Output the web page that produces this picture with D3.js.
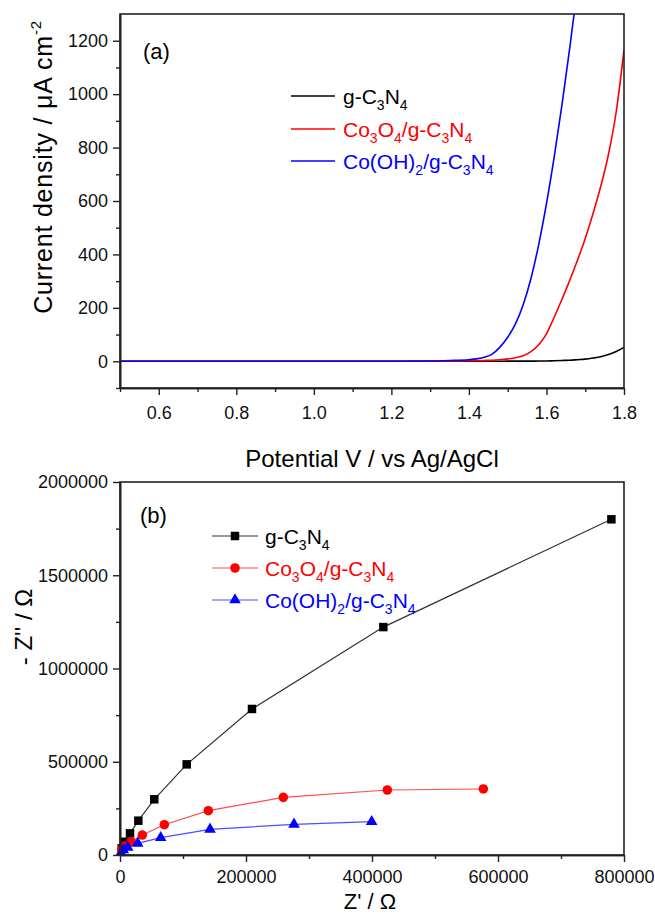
<!DOCTYPE html>
<html><head><meta charset="utf-8">
<script src="https://cdn.jsdelivr.net/npm/d3@7"></script>
<style>
body{margin:0;background:#fff;}
text{font-family:"Liberation Sans",Arial,Helvetica,sans-serif;}
</style></head><body>
<script>
// ---------- Panel (a): LSV curves ----------
const potential = [0.5,0.6,0.7,0.8,0.9,1.0,1.1,1.2,1.3,1.35,1.4,1.42,1.44,1.46,1.48,1.5,1.52,1.54,1.56,1.58,1.6,1.62,1.64,1.66,1.68,1.7,1.72,1.74,1.76,1.78,1.8];
const currentGC3N4 = [0,0,0,0,0,0,0,0,0,0,0,0,0,0,0,0.5,0.5,0.5,0.5,1,1,2,3,4,6,8,12,17,25,37,52];
const currentCo3O4 = [0,0,0,0,0,0,0,0,0,1,2,2,3,4,6,9,13,21,36,62,103,165,232,303,378,460,552,655,775,935,1165];
const currentCoOH2 = [0,0,0,0,0,0,0,0,1,3,6,9,15,27,53,90,140,212,310,437,590,765,960,1172,1400,null,null,null,null,null,null];
const xTicksA = [0.6,0.8,1.0,1.2,1.4,1.6,1.8];
const xMinorA = [0.5,0.7,0.9,1.1,1.3,1.5,1.7];
const yTicksA = [0,200,400,600,800,1000,1200];
const yMinorA = [-100,100,300,500,700,900,1100];

// ---------- Panel (b): Nyquist plots ----------
const zReGC3N4 = [2700,7900,15900,29100,54400,105900,209500,418000,780000];
const zImGC3N4 = [36000,71000,116000,184000,298600,486000,783000,1222000,1800000];
const zReCo3O4 = [2700,7900,17500,35400,70300,140200,259200,424300,576700];
const zImCo3O4 = [30000,48000,71000,107000,162500,237500,309000,348500,354000];
const zReCoOH2 = [1600,5200,12200,28100,64600,142900,276200,399500];
const zImCoOH2 = [12300,26800,41300,62700,92800,137800,164600,178600];
const xTicksB = [0,200000,400000,600000,800000];
const xMinorB = [100000,300000,500000,700000];
const yTicksB = [0,500000,1000000,1500000,2000000];
const yMinorB = [250000,750000,1250000,1750000];

// legend labels (text, isSubscript)
const seriesLabels = [
  [["g-C",0],["3",1],["N",0],["4",1]],
  [["Co",0],["3",1],["O",0],["4",1],["/g-C",0],["3",1],["N",0],["4",1]],
  [["Co(OH)",0],["2",1],["/g-C",0],["3",1],["N",0],["4",1]]
];
const colorsA = ["#000000","#ff0000","#0000ff"];
const lineColorsB = ["#333333","#ff4d4d","#4d4dff"];
const markColorsB = ["#000000","#ff0000","#0000ff"];

const svg = d3.select("body").append("svg").attr("width",655).attr("height",914);

function drawAxes(g, x, y, o){
  const [x0,x1] = x.range(), [yb,yt] = y.range();
  g.append("g").attr("class","ax").attr("transform",`translate(0,${yb})`)
    .call(d3.axisBottom(x).tickValues(o.xMajor).tickSize(7).tickSizeOuter(0).tickPadding(o.xPad).tickFormat(o.xFmt));
  g.append("g").attr("class","ax").attr("transform",`translate(0,${yb})`)
    .call(d3.axisBottom(x).tickValues(o.xMinor).tickSize(4).tickSizeOuter(0).tickFormat(""));
  g.append("g").attr("class","ax").attr("transform",`translate(${x0},0)`)
    .call(d3.axisLeft(y).tickValues(o.yMajor).tickSize(7).tickSizeOuter(0).tickPadding(5).tickFormat(o.yFmt));
  g.append("g").attr("class","ax").attr("transform",`translate(${x0},0)`)
    .call(d3.axisLeft(y).tickValues(o.yMinor).tickSize(4).tickSizeOuter(0).tickFormat(""));
  g.append("rect").attr("x",x0).attr("y",yt).attr("width",x1-x0).attr("height",yb-yt)
    .attr("fill","none").attr("stroke","#222").attr("stroke-width",1.6);
  g.selectAll(".ax path").attr("stroke","#222").attr("stroke-width",1.6);
  g.selectAll(".ax line").attr("stroke","#222").attr("stroke-width",1.4);
  g.selectAll(".ax text").attr("font-size",18).attr("fill","#111")
    .attr("font-family","'Liberation Sans',Arial,sans-serif");
}

function richText(sel, parts, size, subSize){
  let down = false;
  parts.forEach(([t,sub])=>{
    const ts = sel.append("tspan").text(t);
    if(sub && !down){ ts.attr("dy",6).attr("font-size",subSize); down = true; }
    else if(sub){ ts.attr("font-size",subSize); }
    else if(!sub && down){ ts.attr("dy",-6).attr("font-size",size); down = false; }
    else ts.attr("font-size",size);
  });
}

// ===== Panel (a) =====
const gA = svg.append("g");
const xA = d3.scaleLinear().domain([0.5,1.8]).range([120,624]);
const yA = d3.scaleLinear().domain([-100,1300]).range([388,14]);
svg.append("clipPath").attr("id","clipA").append("rect")
  .attr("x",120).attr("y",14).attr("width",504).attr("height",374);
const lineA = d3.line().defined(d=>d[1]!=null).x(d=>xA(d[0])).y(d=>yA(d[1])).curve(d3.curveMonotoneX);
[currentGC3N4,currentCo3O4,currentCoOH2].forEach((s,i)=>{
  gA.append("path").attr("clip-path","url(#clipA)")
    .datum(potential.map((p,j)=>[p,s[j]]))
    .attr("d",lineA).attr("fill","none").attr("stroke",colorsA[i]).attr("stroke-width",1.6);
});
drawAxes(gA, xA, yA, {xMajor:xTicksA,xMinor:xMinorA,yMajor:yTicksA,yMinor:yMinorA,
  xFmt:d3.format(".1f"), yFmt:d3.format("d"), xPad:11});

gA.append("text").attr("x",143).attr("y",59).attr("font-size",22).text("(a)");
// legend a
seriesLabels.forEach((lab,i)=>{
  const ly = [96,129,161][i];
  gA.append("line").attr("x1",291).attr("x2",335).attr("y1",ly).attr("y2",ly)
    .attr("stroke",colorsA[i]).attr("stroke-width",1.6);
  const t = gA.append("text").attr("x",343).attr("y",ly+8).attr("fill",colorsA[i]);
  richText(t, lab, 21, 14);
});
// axis titles a
gA.append("text").attr("x",372).attr("y",467).attr("text-anchor","middle").attr("font-size",24)
  .text("Potential V / vs Ag/AgCl");
const ytA = gA.append("text").attr("transform","translate(52,167) rotate(-90)")
  .attr("text-anchor","middle").attr("font-size",25).attr("letter-spacing",0.8);
ytA.append("tspan").text("Current density / \u03bcA cm");
ytA.append("tspan").attr("dy",-11).attr("font-size",15).text("-2");

// ===== Panel (b) =====
const gB = svg.append("g");
const xB = d3.scaleLinear().domain([0,800000]).range([120,624]);
const yB = d3.scaleLinear().domain([0,2000000]).range([855,482]);
const lineB = d3.line().x(d=>xB(d[0])).y(d=>yB(d[1]));
const seriesB = [[zReGC3N4,zImGC3N4],[zReCo3O4,zImCo3O4],[zReCoOH2,zImCoOH2]];
const symbols = [d3.symbol().type(d3.symbolSquare).size(72),
                 d3.symbol().type(d3.symbolCircle).size(72),
                 d3.symbol().type(d3.symbolTriangle).size(58)];
seriesB.forEach(([re,im],i)=>{
  const pts = re.map((r,j)=>[r,im[j]]);
  gB.append("path").datum(pts).attr("d",lineB).attr("fill","none")
    .attr("stroke",lineColorsB[i]).attr("stroke-width",1.2);
});
seriesB.forEach(([re,im],i)=>{
  const pts = re.map((r,j)=>[r,im[j]]);
  gB.selectAll(null).data(pts).enter().append("path")
    .attr("transform",d=>`translate(${xB(d[0])},${yB(d[1])})`)
    .attr("d",symbols[i]).attr("fill",markColorsB[i]);
});
drawAxes(gB, xB, yB, {xMajor:xTicksB,xMinor:xMinorB,yMajor:yTicksB,yMinor:yMinorB,
  xFmt:d3.format("d"), yFmt:d3.format("d"), xPad:8});

gB.append("text").attr("x",140).attr("y",523).attr("font-size",22).text("(b)");
seriesLabels.forEach((lab,i)=>{
  const ly = [536,568,600][i];
  gB.append("line").attr("x1",212).attr("x2",258).attr("y1",ly).attr("y2",ly)
    .attr("stroke",lineColorsB[i]).attr("stroke-width",1.2);
  gB.append("path").attr("transform",`translate(235,${ly})`).attr("d",symbols[i]).attr("fill",markColorsB[i]);
  const t = gB.append("text").attr("x",265).attr("y",ly+8).attr("fill",markColorsB[i]);
  richText(t, lab, 21, 14);
});
gB.append("text").attr("x",370).attr("y",909).attr("text-anchor","middle").attr("font-size",22)
  .text("Z' / \u03a9");
gB.append("text").attr("transform","translate(32,627) rotate(-90)")
  .attr("text-anchor","middle").attr("font-size",24).text("- Z'' / \u03a9");
</script>
</body></html>
